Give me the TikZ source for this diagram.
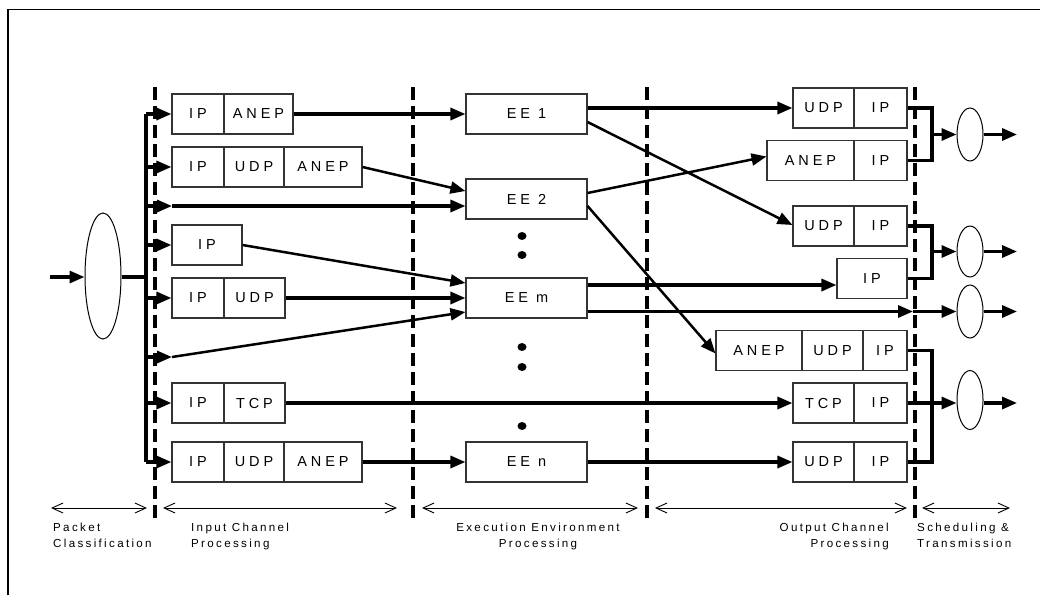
\documentclass[tikz,border=0pt]{standalone}
\usepackage{fontspec}
\setmainfont{Liberation Sans}
\newfontfamily\boxfont[LetterSpace=27]{Liberation Sans}
\newfontfamily\capfont[LetterSpace=20]{Liberation Sans}
\usetikzlibrary{arrows.meta,shapes.geometric,calc}

\tikzset{
  cell/.style={draw=black!80, line width=1.1pt, minimum height=40pt, inner sep=0pt,
    font=\boxfont\fontsize{14.5}{17}\selectfont},
  ring/.style={draw, ellipse, line width=1pt, inner sep=0pt},
  flow/.style={line width=3.2pt, line join=miter},
  flowd/.style={line width=2.5pt},
  arr/.style={-{Triangle[length=15pt,width=12pt]}},
  stage/.style={line width=4pt, dash pattern=on 13pt off 6pt},
  span/.style={line width=0.9pt, {Straight Barb[length=11pt,width=10pt]}-{Straight Barb[length=11pt,width=10pt]}},
  caption/.style={inner sep=0pt, font=\capfont\fontsize{11.6}{16}\selectfont},
  dot/.style={fill=black}
}

\begin{document}
\begin{tikzpicture}[x=1pt,y=-1pt]
\useasboundingbox (0,0) rectangle (1040,595);

% outer frame (top and left edges)
\draw[line width=1.2pt] (8,595) -- (8,9.5) -- (1040,9.5);

% stage separators
\foreach \sx in {155,413,647,915}
  \draw[stage] (\sx,87) -- (\sx,520);

% ---------- packet classification ----------
\coordinate (src) at (50,277);
\coordinate (busJ) at (146,277);
\node[ring, minimum width=36pt, minimum height=126pt] (e0) at (103,276) {};

% ---------- input channel cells ----------
\node[cell, minimum width=52pt] (a1) at (198,114) {IP};
\node[cell, minimum width=69pt] (b1) at (258.5,114) {ANEP};

\node[cell, minimum width=52pt] (a2) at (198,167) {IP};
\node[cell, minimum width=60pt] (b2) at (254,167) {UDP};
\node[cell, minimum width=78pt] (c2) at (323,167) {ANEP};

\coordinate (p3) at (172,206);

\node[cell, minimum width=70pt] (a4) at (207,245) {IP};

\node[cell, minimum width=52pt] (a5) at (198,298) {IP};
\node[cell, minimum width=61pt] (b5) at (254.5,298) {UDP};

\coordinate (p6) at (172,357);

\node[cell, minimum width=52pt] (a7) at (198,403) {IP};
\node[cell, minimum width=61pt] (b7) at (254.5,403) {TCP};

\node[cell, minimum width=52pt] (a8) at (198,462) {IP};
\node[cell, minimum width=60pt] (b8) at (254,462) {UDP};
\node[cell, minimum width=78pt] (c8) at (323,462) {ANEP};

% ---------- execution environments ----------
\node[cell, minimum width=121pt] (ee1) at (526.5,114) {EE 1};
\node[cell, minimum width=121pt] (ee2) at (526.5,199) {EE 2};
\node[cell, minimum width=121pt] (eem) at (526.5,298) {EE m};
\node[cell, minimum width=121pt] (een) at (526.5,462) {EE n};

\foreach \dy in {236,255,347,367,426}
  \fill[dot] (522,\dy) ellipse [x radius=4.5pt, y radius=4pt];

% ---------- output channel cells ----------
\node[cell, minimum width=61pt] (u1) at (823.5,108) {UDP};
\node[cell, minimum width=53pt] (i1) at (880.5,108) {IP};

\node[cell, minimum width=87pt] (an2) at (810.5,160.5) {ANEP};
\node[cell, minimum width=53pt] (i2) at (880.5,160.5) {IP};

\node[cell, minimum width=61pt] (u3) at (823.5,226) {UDP};
\node[cell, minimum width=53pt] (i3) at (880.5,226) {IP};

\node[cell, minimum width=70pt] (i4) at (872,278.5) {IP};

\node[cell, minimum width=86pt] (an5) at (759,350.5) {ANEP};
\node[cell, minimum width=61pt] (u5) at (832.5,350.5) {UDP};
\node[cell, minimum width=44pt] (i5) at (885,350.5) {IP};

\node[cell, minimum width=61pt] (t6) at (823.5,403) {TCP};
\node[cell, minimum width=53pt] (i6) at (880.5,403) {IP};

\node[cell, minimum width=61pt] (u7) at (823.5,462) {UDP};
\node[cell, minimum width=53pt] (i7) at (880.5,462) {IP};

% ---------- scheduling queues ----------
\node[ring, minimum width=26pt, minimum height=53pt] (q1) at (970,134.5) {};
\node[ring, minimum width=26pt, minimum height=51pt] (q2) at (970,251.5) {};
\node[ring, minimum width=26pt, minimum height=53pt] (q3) at (970,311.5) {};
\node[ring, minimum width=26pt, minimum height=59pt] (q4) at (970,400) {};

\coordinate (j1) at (932,134.5);
\coordinate (j2) at (932,251.5);
\coordinate (j4) at (932,403);
\coordinate (m3) at (913,311.5);
\coordinate (o1) at (1017,134.5);
\coordinate (o2) at (1017,251.5);
\coordinate (o3) at (1017,311.5);
\coordinate (o4) at (1017,403);

% ---------- classification fan-out ----------
\draw[flow,arr] (src) -- (e0.west |- src);
\draw[flow] (e0.east |- busJ) -- (busJ);
\draw[flow] (a1.west -| busJ) -- (a8.west -| busJ);
\foreach \t in {a1,a2,p3,a4,a5,p6,a7,a8}
  \draw[flow,arr] (\t.west -| busJ) -- (\t.west);

% ---------- into the execution environments ----------
\draw[flow,arr] (b1.east) -- (ee1.west);
\draw[flowd,arr] (c2.east) -- ($(ee2.west)+(0,-8)$);
\draw[flow,arr] (p3) -- ($(ee2.west)+(0,7)$);
\draw[flowd,arr] (a4.east) -- ($(eem.west)+(0,-15)$);
\draw[flow,arr] (b5.east) -- (eem.west);
\draw[flowd,arr] (p6) -- ($(eem.west)+(0,14)$);
\draw[flow,arr] (b7.east) -- (t6.west);
\draw[flow,arr] (c8.east) -- (een.west);

% ---------- out of the execution environments ----------
\draw[flow,arr] (u1.west -| ee1.east) -- (u1.west);
\draw[flowd,arr] ($(ee1.east)+(0,8)$) -- ($(u3.west)+(0,-1)$);
\draw[flowd,arr] ($(ee2.east)+(0,-6)$) -- ($(an2.west)+(0,-4)$);
\draw[flowd,arr] ($(ee2.east)+(0,7)$) -- ($(an5.west)+(0,3)$);
\draw[flow,arr] ($(eem.east)+(0,-13)$) -- ($(i4.west)+(0,6.5)$);
\draw[flow,arr] (m3 -| eem.east) -- (m3);
\draw[flow,arr] (een.east) -- (u7.west);

% ---------- scheduling & transmission ----------
\draw[flow] (i1.east) -| (j1) |- (i2.east);
\draw[flow,arr] (j1) -- (q1.west);
\draw[flow,arr] (q1.east) -- (o1);

\draw[flow] (i3.east) -| (j2) |- (i4.east);
\draw[flow,arr] (j2) -- (q2.west);
\draw[flow,arr] (q2.east) -- (o2);

\draw[flow,arr] (m3) -- (q3.west);
\draw[flow,arr] (q3.east) -- (o3);

\draw[flow] (i5.east) -| (j4) |- (i7.east);
\draw[flow,arr] (i6.east) -- (q4.west |- i6.east);
\draw[flow,arr] (q4.east |- o4) -- (o4);

% ---------- stage spans ----------
\coordinate (s1a) at (51,508);  \coordinate (s1b) at (147,508);
\coordinate (s2a) at (163,508); \coordinate (s2b) at (397,508);
\coordinate (s3a) at (422,508); \coordinate (s3b) at (638,508);
\coordinate (s4a) at (655,508); \coordinate (s4b) at (907,508);
\coordinate (s5a) at (922,508); \coordinate (s5b) at (1010,508);
\draw[span] (s1a) -- (s1b);
\draw[span] (s2a) -- (s2b);
\draw[span] (s3a) -- (s3b);
\draw[span] (s4a) -- (s4b);
\draw[span] (s5a) -- (s5b);

\node[caption, anchor=north west, align=left] (l1) at (53,522.5) {Packet\\Classification};
\node[caption, anchor=north west, align=left] (l2) at (191,522.5) {Input Channel\\Processing};
\node[caption, anchor=north, align=center] (l3) at (538,522.5) {Execution Environment\\Processing};
\node[caption, anchor=north east, align=right] (l4) at (889,522.5) {Output Channel\\Processing};
\node[caption, anchor=north west, align=left] (l5) at (917,522.5) {Scheduling \&\\Transmission};
\end{tikzpicture}
\end{document}
